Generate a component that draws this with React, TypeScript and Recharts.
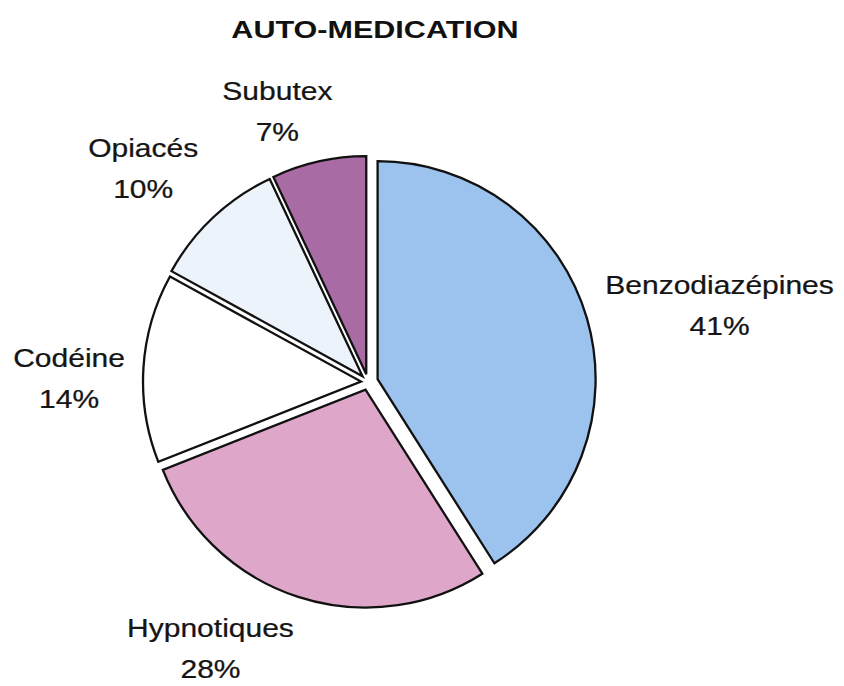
import React from 'react';
import { PieChart, Pie, Cell, Sector } from 'recharts';

const categories = ['Benzodiazépines', 'Hypnotiques', 'Codéine', 'Opiacés', 'Subutex'];
const shares = [41, 28, 14, 10, 7];

const colors = ['#9cc2ee', '#dea6c8', '#ffffff', '#edf3fa', '#a96ba4'];
// how far each slice is pulled out of the pie
const explode = [10, 8, 7, 8, 8];
// label distance from the centre and angle tweak from the slice middle
const labelDist = [358, 317, 299, 304, 277];
const labelTilt = [-5.3, -11.8, 4.6, 4.5, 6.5];

const data = categories.map((name, i) => ({ name, value: shares[i] }));

const RAD = Math.PI / 180;
const font = '"Liberation Sans", Arial, Helvetica, sans-serif';

const renderSlice = (props: any) => {
  const { cx, cy, midAngle, innerRadius, outerRadius, startAngle, endAngle, fill } = props;
  const idx = categories.indexOf(props.name ?? props.payload?.name);
  const d = explode[idx] ?? 0;
  const dx = d * Math.cos(midAngle * RAD);
  const dy = -d * Math.sin(midAngle * RAD);
  return (
    <Sector
      cx={cx + dx}
      cy={cy + dy}
      innerRadius={innerRadius}
      outerRadius={outerRadius}
      startAngle={startAngle}
      endAngle={endAngle}
      fill={fill}
      stroke="#111"
      strokeWidth={2.3}
      strokeLinejoin="miter"
    />
  );
};

const renderLabel = (props: any) => {
  const { cx, cy, midAngle, index } = props;
  const a = (midAngle + labelTilt[index]) * RAD;
  const x = cx + labelDist[index] * Math.cos(a);
  const y = cy - labelDist[index] * Math.sin(a);
  const textProps = {
    x: 0,
    textAnchor: 'middle' as const,
    fontSize: 25,
    fontFamily: font,
    fill: '#151515',
    stroke: '#151515',
    strokeWidth: 0.25,
  };
  return (
    <g transform={`translate(${x},${y}) scale(1.2,1)`}>
      <text {...textProps} y={-20.5}>
        {categories[index]}
      </text>
      <text {...textProps} y={20.5}>
        {`${shares[index]}%`}
      </text>
    </g>
  );
};

export default function App() {
  return (
    <div style={{ position: 'absolute', left: 0, top: 0, width: 844, height: 686, background: '#fff' }}>
      <svg width={844} height={60} style={{ position: 'absolute', left: 0, top: 0 }}>
        <g transform="translate(375,38) scale(1.3,1)">
          <text x={0} y={0} textAnchor="middle" fontSize={23.5} fontWeight="bold" fontFamily={font} fill="#111">
            AUTO-MEDICATION
          </text>
        </g>
      </svg>
      <PieChart width={844} height={686} margin={{ top: 0, right: 0, bottom: 0, left: 0 }}>
        <Pie
          data={data}
          dataKey="value"
          nameKey="name"
          cx={368}
          cy={382}
          outerRadius={218}
          startAngle={90}
          endAngle={-270}
          shape={renderSlice}
          label={renderLabel}
          labelLine={false}
          isAnimationActive={false}
        >
          {data.map((entry, i) => (
            <Cell key={entry.name} fill={colors[i]} />
          ))}
        </Pie>
      </PieChart>
    </div>
  );
}
